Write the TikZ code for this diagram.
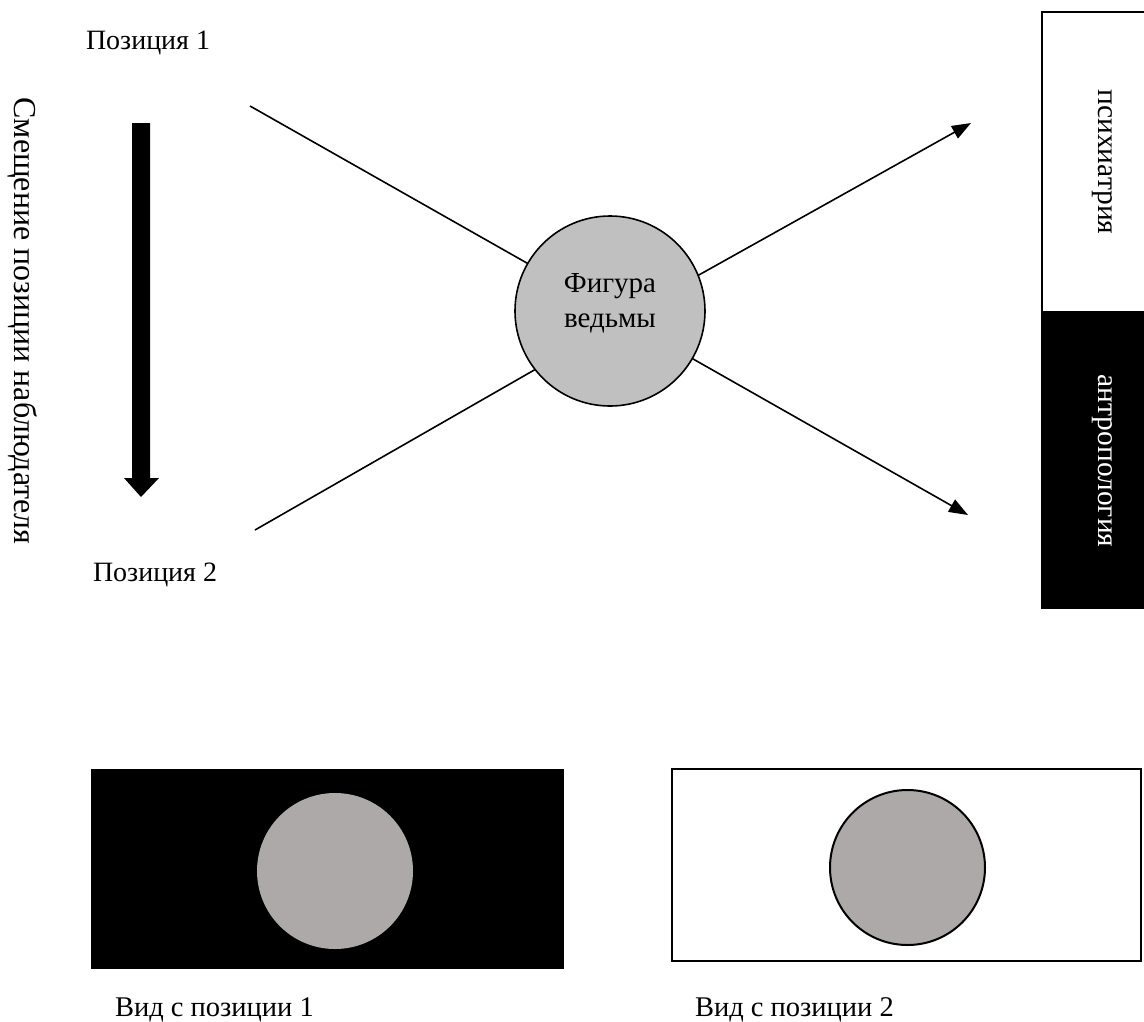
\documentclass[tikz,border=0pt]{standalone}
\usepackage{fontspec}
\setmainfont{Liberation Serif}
\usetikzlibrary{arrows.meta}
\definecolor{figgray}{HTML}{C0C0C0}
\definecolor{viewgray}{HTML}{ACA9A8}
\begin{document}
\begin{tikzpicture}[x=1pt,y=-1pt,
  every node/.style={inner sep=0pt, outer sep=0pt},
  txt/.style={font=\fontsize{28}{35}\selectfont},
  vtxt/.style={font=\fontsize{29.5}{35}\selectfont},
  conn/.style={line width=1.6pt},
  arr/.style={conn, -{Triangle[length=19pt,width=14pt]}},
  boxline/.style={line width=2pt}
]
\useasboundingbox (0,0) rectangle (1144,1021);
\fill[white] (0,0) rectangle (1144,1021);

% labels
\node[txt, anchor=base west] (pos1) at (86,49) {Позиция 1};
\node[txt, anchor=base west] (pos2) at (93,581) {Позиция 2};
\node[font=\fontsize{32}{38}\selectfont, rotate=-90, anchor=base] (shift) at (14,321) {Смещение позиции наблюдателя};

% big arrow
\fill[black] (132,123) -- (150,123) -- (150,478) -- (159,478) -- (141,497) -- (124,478) -- (132,478) -- cycle;

% central figure
\node[circle, draw, line width=1.6pt, fill=figgray, minimum size=190pt] (fig) at (610,311) {};
\node[font=\fontsize{29}{35}\selectfont, align=center] (figtext) at (610,303) {Фигура\\ведьмы};

% connectors
\coordinate (p1s) at (250,106);
\coordinate (p2s) at (255,530);
\coordinate (t1) at (971,123);
\coordinate (t2) at (968,515);
\draw[conn] (p1s) -- (fig.150);
\draw[conn] (p2s) -- (fig.218);
\draw[arr] (fig.22) -- (t1);
\draw[arr] (fig.330) -- (t2);

% right boxes
\node[fill=white, anchor=north west, minimum width=102pt, minimum height=300pt] (psy) at (1042,12) {};
\draw[boxline] (psy.north east) -- (psy.north west) -- (psy.south west) -- (psy.south east);
\node[fill=black, anchor=north west, minimum width=103pt, minimum height=297pt] (anth) at (1041,312) {};
\node[vtxt, rotate=-90, anchor=base] (psytext) at (1098,162) {психиатрия};
\node[vtxt, rotate=-90, anchor=base, text=white] (anthtext) at (1098,461) {антропология};

% bottom views
\node[fill=black, minimum width=473pt, minimum height=200pt] (view1) at (327.5,869) {};
\node[circle, fill=viewgray, minimum size=156pt] (c1) at (335,871) {};
\node[draw, boxline, minimum width=469pt, minimum height=192pt] (view2) at (906.5,865) {};
\node[circle, draw, line width=2pt, fill=viewgray, minimum size=155pt] (c2) at (907.5,867.5) {};

\node[font=\fontsize{28.5}{35}\selectfont, anchor=base west] (v1lab) at (115,1016) {Вид с позиции 1};
\node[font=\fontsize{28.5}{35}\selectfont, anchor=base west] (v2lab) at (695,1016) {Вид с позиции 2};
\end{tikzpicture}
\end{document}
